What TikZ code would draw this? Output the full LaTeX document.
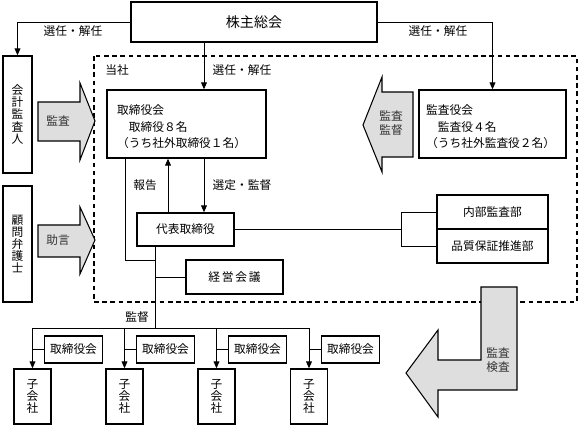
\documentclass[tikz,border=0pt]{standalone}
\usepackage{fontspec}
\setmainfont{Noto Sans CJK JP}
\usetikzlibrary{arrows.meta}

\begin{document}
\begin{tikzpicture}[x=0.03cm, y=-0.03cm,
  every node/.style={font=\fontsize{10}{14}\selectfont},
  box/.style={draw, line width=1.1pt, fill=white, inner sep=0pt},
  vbox/.style={box, align=center, font=\fontsize{10}{10.4}\selectfont},
  lbl/.style={inner sep=0pt},
  conn/.style={line width=0.8pt},
  arr/.style={conn, -{Triangle[length=6pt, width=5pt]}},
  block/.style={draw, line width=0.9pt, fill=black!13},
  blocklbl/.style={inner sep=0pt, align=center, text=black!80, font=\fontsize{10}{12}\selectfont}]

% Parameters
\def\px{0.03cm}  % one pixel of the original

\useasboundingbox (0,0) rectangle (582,429);

% Company frame
\draw[line width=1.1pt, dash pattern=on 4pt off 3pt] (94,56) rectangle (577,302);
\node[lbl] (tosha) at (117,70) {当社};

% Shareholders meeting
\node[box, minimum width=246*\px, minimum height=40*\px, font=\fontsize{12}{14}\selectfont] (agm) at (254,22) {株主総会};

% Outside parties
\node[vbox, minimum width=29*\px, minimum height=117*\px] (auditor) at (17.5,114.5) {会\\計\\監\\査\\人};
\node[vbox, minimum width=29*\px, minimum height=116*\px] (counsel) at (17.5,244) {顧\\問\\弁\\護\\士};

% Board of directors
\node[box, minimum width=159*\px, minimum height=68*\px] (board) at (186.5,124) {};
\node[lbl, anchor=west, align=left] (boardtxt) at (117,127)
    {取締役会\\\hspace{1em}取締役８名\\（うち社外取締役１名）};

% Audit board
\node[box, minimum width=147*\px, minimum height=68*\px] (kansa) at (492.5,124) {};
\node[lbl, anchor=west, align=left] (kansatxt) at (426,127)
    {監査役会\\\hspace{1em}監査役４名\\（うち社外監査役２名）};

% Representative director and management
\node[box, minimum width=97*\px, minimum height=33*\px] (ceo) at (185.5,229.5) {代表取締役};
\node[box, minimum width=97*\px, minimum height=34*\px] (mgmt) at (234.5,277) {経\hspace{0.15em}営\hspace{0.15em}会\hspace{0.15em}議};

% Internal departments
\node[box, minimum width=111*\px, minimum height=34*\px] (audit) at (492.5,212) {内部監査部};
\node[box, minimum width=111*\px, minimum height=34*\px] (qa) at (492.5,246) {品質保証推進部};

% Subsidiaries
\node[vbox, minimum width=37*\px, minimum height=55*\px] (sub1) at (32.5,396.5) {子\\会\\社};
\node[vbox, minimum width=37*\px, minimum height=55*\px] (sub2) at (124.5,396.5) {子\\会\\社};
\node[vbox, minimum width=37*\px, minimum height=55*\px] (sub3) at (216.5,396.5) {子\\会\\社};
\node[vbox, minimum width=37*\px, minimum height=55*\px] (sub4) at (309,396.5) {子\\会\\社};
\node[box, minimum width=58*\px, minimum height=27*\px] (sb1) at (73.5,349.5) {取締役会};
\node[box, minimum width=58*\px, minimum height=27*\px] (sb2) at (165.5,349.5) {取締役会};
\node[box, minimum width=58*\px, minimum height=27*\px] (sb3) at (257.5,349.5) {取締役会};
\node[box, minimum width=58*\px, minimum height=27*\px] (sb4) at (350.5,349.5) {取締役会};

% Helper coordinates
\coordinate (sel) at (204,0);
\coordinate (rep) at (168,0);
\coordinate (trunk) at (155,0);
\coordinate (bl) at (125,260);
\coordinate (bus) at (0,328);
\coordinate (brk) at (401,0);

% Appointment lines
\draw[arr] (agm.west) -| (auditor.north);
\node[lbl] (elA) at (73,31) {選任・解任};
\draw[arr] (agm.east) -| (kansa.north);
\node[lbl] (elB) at (438,31) {選任・解任};
\draw[arr] (agm.south -| sel) -- (board.north -| sel);
\node[lbl] (elC) at (242,70) {選任・解任};

% Board and representative director
\draw[arr] (board.south -| sel) -- (ceo.north -| sel);
\node[lbl] (supv) at (242,185) {選定・監督};
\draw[arr] (ceo.north -| rep) -- (board.south -| rep);
\node[lbl] (report) at (145,185) {報告};
\draw[conn] (board.south -| bl) -- (bl) -- (bl -| trunk);
\draw[conn] (ceo.south -| trunk) -- (trunk |- bus);
\draw[conn] (mgmt.west) -- (mgmt.west -| trunk);

% Internal departments bracket
\draw[conn] (ceo.east) -- (ceo.east -| brk);
\draw[conn] (audit.west) -- (audit.west -| brk) -- (qa.west -| brk) -- (qa.west);

% Group supervision
\node[lbl] (kantoku) at (137,317) {監督};
\draw[conn] (sub1.north |- bus) -- (sub4.north |- bus);
\draw[arr] (sub1.north |- bus) -- (sub1.north);
\draw[arr] (sub2.north |- bus) -- (sub2.north);
\draw[arr] (sub3.north |- bus) -- (sub3.north);
\draw[arr] (sub4.north |- bus) -- (sub4.north);
\draw[conn] (sb1.west) -- (sb1.west -| sub1.north);
\draw[conn] (sb2.west) -- (sb2.west -| sub2.north);
\draw[conn] (sb3.west) -- (sb3.west -| sub3.north);
\draw[conn] (sb4.west) -- (sb4.west -| sub4.north);

% Block arrows
\draw[block] (38,102) -- (80,102) -- (80,83) -- (95,121) -- (80,160) -- (80,141) -- (38,141) -- cycle;
\node[blocklbl] (kansaA) at (58,121) {監査};
\draw[block] (38,225) -- (80,225) -- (80,207) -- (95,240) -- (80,274) -- (80,257) -- (38,257) -- cycle;
\node[blocklbl] (jogen) at (58,240) {助言};
\draw[block] (413,92) -- (382,92) -- (382,77) -- (363,125) -- (382,172) -- (382,157) -- (413,157) -- cycle;
\node[blocklbl] (kansaB) at (391,123) {監査\\監督};
\draw[block] (481,287) -- (517,287) -- (517,390) -- (438,390) -- (438,417) -- (406,373)
    -- (438,330) -- (438,360) -- (481,360) -- cycle;
\node[blocklbl] (kensa) at (498,360) {監査\\検査};

\end{tikzpicture}
\end{document}
